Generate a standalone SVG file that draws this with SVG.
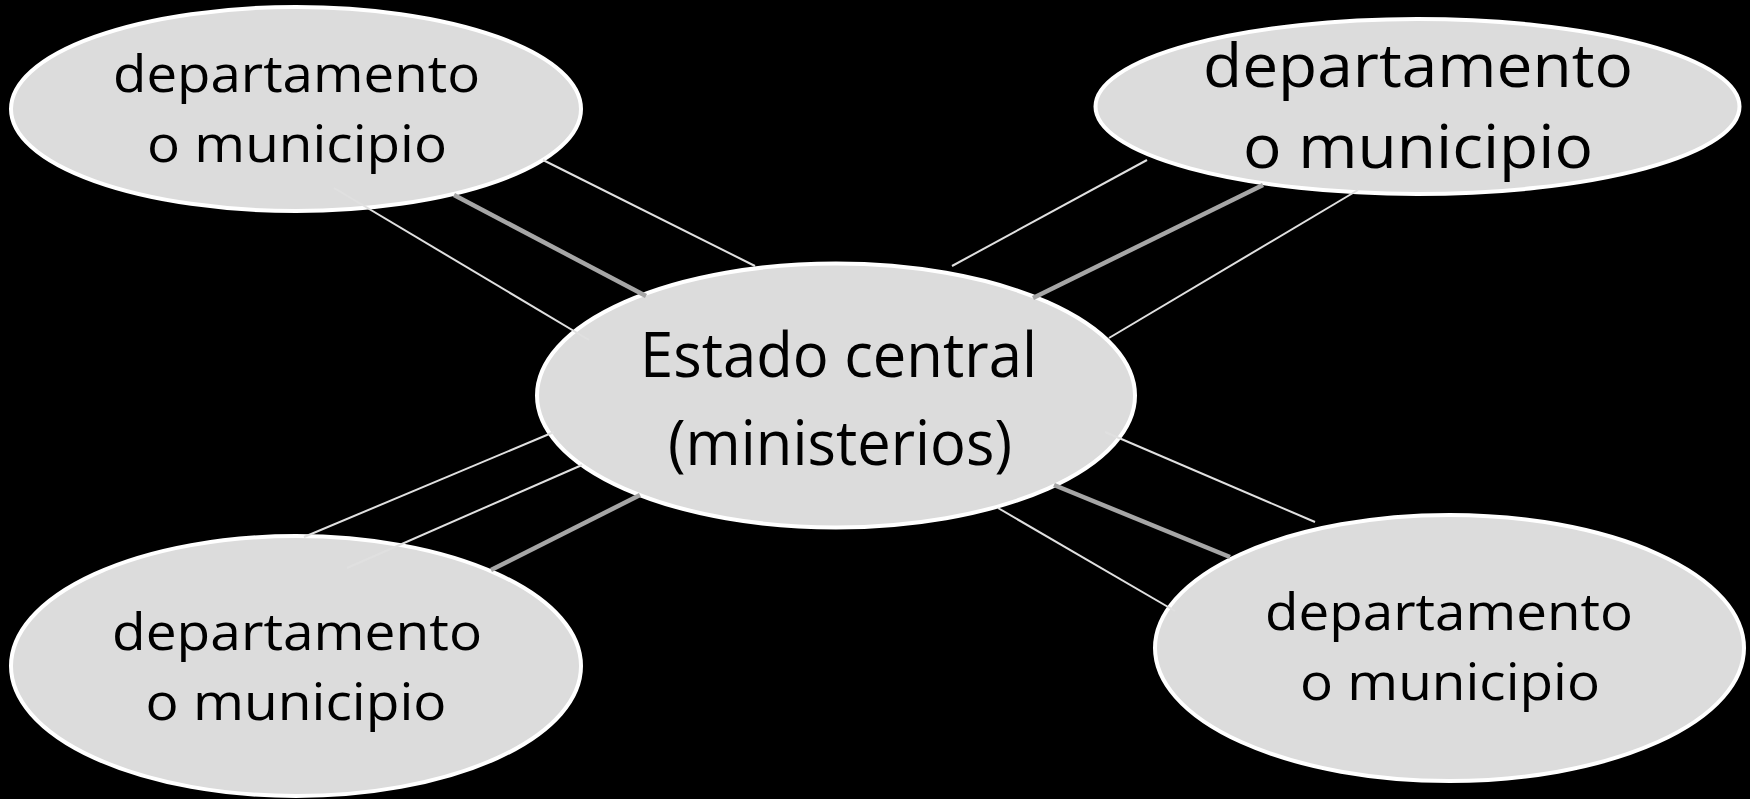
<svg xmlns="http://www.w3.org/2000/svg" width="1750" height="799" viewBox="0 0 1750 799">
<style>
.node{fill:#dcdcdc;stroke:#ffffff;stroke-width:4}
.lbl{font-family:"Open Sans","Noto Sans","Liberation Sans",sans-serif;fill:#000;text-anchor:middle}
.s{font-size:52px}
.m{font-size:60px}
.l{font-size:63px}
.thin{stroke:#e0e0e0;stroke-width:2;fill:none}
.thick{stroke:#a6a6a6;stroke-width:4.5;fill:none}
</style>
<rect x="0" y="0" width="1750" height="799" fill="#000"/>
<g id="nodes">
<g id="node-top-left">
<ellipse class="node" cx="296" cy="109" rx="285" ry="102"/>
<text class="lbl s" x="296.5" y="92" textLength="367" lengthAdjust="spacingAndGlyphs">departamento</text>
<text class="lbl s" x="297" y="162" textLength="300" lengthAdjust="spacingAndGlyphs">o municipio</text>
</g>
<g id="node-top-right">
<ellipse class="node" cx="1417.5" cy="106.5" rx="322" ry="87.5"/>
<text class="lbl m" x="1418" y="87" textLength="430" lengthAdjust="spacingAndGlyphs">departamento</text>
<text class="lbl m" x="1418" y="168" textLength="350" lengthAdjust="spacingAndGlyphs">o municipio</text>
</g>
<g id="node-center">
<ellipse class="node" cx="836" cy="395.5" rx="299" ry="132"/>
<text class="lbl l" x="838.5" y="377" textLength="397" lengthAdjust="spacingAndGlyphs">Estado central</text>
<text class="lbl l" x="840" y="465" textLength="344" lengthAdjust="spacingAndGlyphs">(ministerios)</text>
</g>
<g id="node-bottom-left">
<ellipse class="node" cx="296" cy="666" rx="285" ry="130"/>
<text class="lbl s" x="297" y="650" textLength="370" lengthAdjust="spacingAndGlyphs">departamento</text>
<text class="lbl s" x="296" y="720" textLength="301" lengthAdjust="spacingAndGlyphs">o municipio</text>
</g>
<g id="node-bottom-right">
<ellipse class="node" cx="1449.5" cy="648" rx="294.5" ry="133"/>
<text class="lbl s" x="1449" y="630" textLength="368" lengthAdjust="spacingAndGlyphs">departamento</text>
<text class="lbl s" x="1450" y="700" textLength="300" lengthAdjust="spacingAndGlyphs">o municipio</text>
</g>
</g>
<g id="connectors">
<line class="thin" x1="543" y1="160" x2="755" y2="266"/>
<line class="thick" x1="454" y1="195" x2="646" y2="296"/>
<line class="thin" x1="334" y1="188" x2="589" y2="340"/>
<line class="thin" x1="1147" y1="160" x2="952" y2="266"/>
<line class="thick" x1="1263" y1="185" x2="1033" y2="298"/>
<line class="thin" x1="1358" y1="190" x2="1109" y2="338"/>
<line class="thin" x1="554" y1="432" x2="304" y2="537"/>
<line class="thin" x1="582" y1="465" x2="347" y2="568"/>
<line class="thick" x1="640" y1="495" x2="491" y2="570"/>
<line class="thin" x1="1105" y1="432" x2="1315" y2="522"/>
<line class="thick" x1="1054" y1="485" x2="1230" y2="557"/>
<line class="thin" x1="998" y1="508" x2="1175" y2="611"/>
</g>
</svg>
